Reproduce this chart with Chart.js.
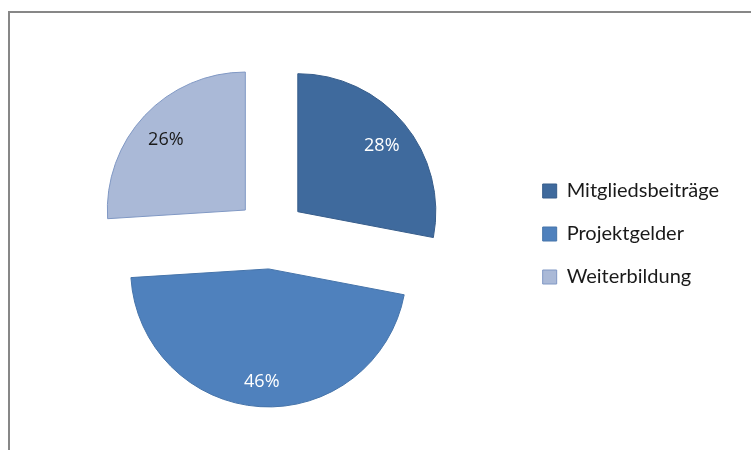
<!DOCTYPE html>
<html>
<head>
<meta charset="utf-8">
<script src="https://cdn.jsdelivr.net/npm/chart.js@4/dist/chart.umd.min.js"></script>
<style>
  body { margin: 0; background: #fff; overflow: hidden; }
  #frame { position: absolute; left: 8px; top: 11px; width: 900px; height: 600px;
           border-left: 2px solid #878787; border-top: 2px solid #878787; }
  #myChart { position: absolute; left: 0; top: 0; }
</style>
</head>
<body>
<div id="frame"></div>
<canvas id="myChart" width="751" height="450"></canvas>
<script>
const labels = ['Mitgliedsbeiträge', 'Projektgelder', 'Weiterbildung'];
const shares = [28, 46, 26];
const fillColors = ['#3F6A9D', '#4F81BD', '#AAB9D7'];
const lineColors = ['#375D8B', '#4674AA', '#8098C4'];
const pctColors = ['#ffffff', '#ffffff', '#1a1a1a'];
const explode = 35;

// pull every slice out by the same distance without growing its radius
const explodedPie = {
  id: 'explodedPie',
  beforeDatasetDraw(chart, args) {
    const ctx = chart.ctx;
    args.meta.data.forEach(arc => {
      const p = arc.getProps(['startAngle', 'endAngle']);
      const mid = (p.startAngle + p.endAngle) / 2;
      ctx.save();
      ctx.translate(Math.cos(mid) * explode, Math.sin(mid) * explode);
      arc.draw(ctx);
      ctx.restore();
    });
    return false;
  },
  afterDatasetsDraw(chart) {
    const ctx = chart.ctx;
    const meta = chart.getDatasetMeta(0);
    ctx.save();
    ctx.font = '18px "Open Sans", sans-serif';
    ctx.textAlign = 'center';
    ctx.textBaseline = 'middle';
    meta.data.forEach((arc, i) => {
      const p = arc.getProps(['x', 'y', 'startAngle', 'endAngle', 'outerRadius']);
      const mid = (p.startAngle + p.endAngle) / 2;
      const r = explode + p.outerRadius * 0.79;
      ctx.fillStyle = pctColors[i];
      ctx.fillText(shares[i] + '%', p.x + Math.cos(mid) * r, p.y + Math.sin(mid) * r + 4);
    });
    ctx.restore();
  }
};

const ctx = document.getElementById('myChart').getContext('2d');

new Chart(ctx, {
  type: 'pie',
  data: {
    labels,
    datasets: [{
      data: shares,
      backgroundColor: fillColors,
      borderColor: lineColors,
      borderWidth: 1,
    }],
  },
  options: {
    responsive: false,
    animation: false,
    radius: 138,
    layout: { padding: { top: 18, bottom: 0, left: 22, right: 22 } },
    plugins: {
      tooltip: { enabled: false },
      legend: {
        position: 'right',
        labels: {
          boxWidth: 14,
          boxHeight: 14,
          padding: 23,
          color: '#1a1a1a',
          font: { family: 'Lato', size: 20 },
        },
      },
    },
  },
  plugins: [explodedPie],
});
</script>
</body>
</html>
